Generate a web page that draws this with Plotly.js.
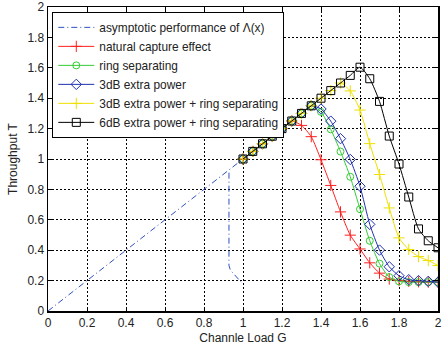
<!DOCTYPE html>
<html>
<head>
<meta charset="utf-8">
<script src="https://cdn.plot.ly/plotly-3.0.1.min.js"></script>
<style>html,body{margin:0;padding:0;background:#fff;}#chart{width:445px;height:348px;}</style>
</head>
<body>
<div id="chart"></div>
<script>
// Asymptotic curve (two branches separated by null)
var asymG = [0, 0.2, 0.4, 0.6, 0.8, 0.93, 1.0, null, 0.928, 0.928, 0.935, 0.99];
var asymT = [0, 0.2, 0.4, 0.6, 0.8, 0.93, 1.0, null, 0.91, 0.30, 0.27, 0.19];

var loadG = [1.0, 1.05, 1.1, 1.15, 1.2, 1.25, 1.3, 1.35, 1.4, 1.45, 1.5, 1.55, 1.6, 1.65, 1.7, 1.75, 1.8, 1.85, 1.9, 1.95, 2.0];

var natural = [1.0, 1.05, 1.1, 1.15, 1.2, 1.25, 1.221, 1.147, 0.995, 0.826, 0.652, 0.499, 0.408, 0.317, 0.249, 0.21, 0.2, 0.195, 0.192, 0.19, 0.19];
var ring    = [1.0, 1.05, 1.1, 1.15, 1.2, 1.25, 1.3, 1.35, 1.31, 1.195, 1.049, 0.883, 0.670, 0.462, 0.312, 0.223, 0.195, 0.19, 0.19, 0.19, 0.19];
var power3  = [1.0, 1.05, 1.1, 1.15, 1.2, 1.25, 1.3, 1.35, 1.329, 1.249, 1.134, 0.997, 0.821, 0.570, 0.401, 0.291, 0.232, 0.206, 0.2, 0.195, 0.19];
var power3ring = [1.0, 1.05, 1.1, 1.15, 1.2, 1.25, 1.3, 1.35, 1.4, 1.45, 1.5, 1.448, 1.322, 1.101, 0.898, 0.678, 0.481, 0.405, 0.358, 0.332, 0.299];
var power6ring = [1.0, 1.05, 1.1, 1.15, 1.2, 1.25, 1.3, 1.35, 1.4, 1.45, 1.5, 1.55, 1.604, 1.528, 1.379, 1.151, 0.967, 0.750, 0.540, 0.462, 0.416];

var names = ['asymptotic performance of \u039B(x)', 'natural capture effect', 'ring separating', '3dB extra power', '3dB extra power + ring separating', '6dB extra power + ring separating'];

var xTicks = [0, 0.2, 0.4, 0.6, 0.8, 1, 1.2, 1.4, 1.6, 1.8, 2];
var yTicks = [0, 0.2, 0.4, 0.6, 0.8, 1, 1.2, 1.4, 1.6, 1.8, 2];

function series(y, name, color, symbol, size) {
  return {
    x: loadG, y: y, name: name, type: 'scatter', mode: 'lines+markers',
    line: {color: color, width: 1, shape: 'spline', smoothing: 0.6},
    marker: {symbol: symbol, size: size, color: color, line: {color: color, width: 1}}
  };
}

var traces = [
  {x: asymG, y: asymT, name: names[0], type: 'scatter', mode: 'lines',
   line: {color: '#3050c0', width: 1, dash: '6px,3px,1px,3px'}},
  series(natural, names[1], '#ff2020', 'cross-thin-open', 8),
  series(ring, names[2], '#33cc33', 'circle-open', 7),
  series(power3, names[3], '#2030b0', 'diamond-open', 8),
  series(power3ring, names[4], '#eee000', 'cross-thin-open', 8),
  series(power6ring, names[5], '#000000', 'square-open', 8)
];

var axisCommon = {
  showline: true, linecolor: '#000', linewidth: 1.5, mirror: 'ticks',
  ticks: 'inside', ticklen: 4, tickcolor: '#000', tickwidth: 1,
  showgrid: true, gridcolor: '#000', gridwidth: 1, griddash: '2px,2px',
  zeroline: false, ticklabeloverflow: 'allow',
  tickfont: {family: 'Liberation Sans, Arial, sans-serif', size: 12, color: '#222'}
};

var layout = {
  width: 445, height: 348,
  margin: {l: 47.7, r: 6.5, t: 7, b: 37},
  paper_bgcolor: '#fff', plot_bgcolor: '#fff',
  font: {family: 'Liberation Sans, Arial, sans-serif', size: 12, color: '#222'},
  xaxis: Object.assign({}, axisCommon, {
    range: [0, 2], tickvals: xTicks, ticktext: xTicks.map(String),
    title: {text: 'Channle Load G', standoff: 4, font: {size: 12, color: '#222'}}
  }),
  yaxis: Object.assign({}, axisCommon, {
    range: [0, 2], tickvals: yTicks, ticktext: yTicks.map(String),
    title: {text: 'Throughput T', standoff: 7, font: {size: 12, color: '#222'}}
  }),
  showlegend: true,
  legend: {
    x: 0.011, y: 0.984, xanchor: 'left', yanchor: 'top',
    bgcolor: '#fff', bordercolor: '#000', borderwidth: 1,
    font: {size: 11.9, color: '#222'}, tracegroupgap: 0, itemwidth: 36
  }
};

Plotly.newPlot('chart', traces, layout, {displayModeBar: false, staticPlot: true});
</script>
</body>
</html>
